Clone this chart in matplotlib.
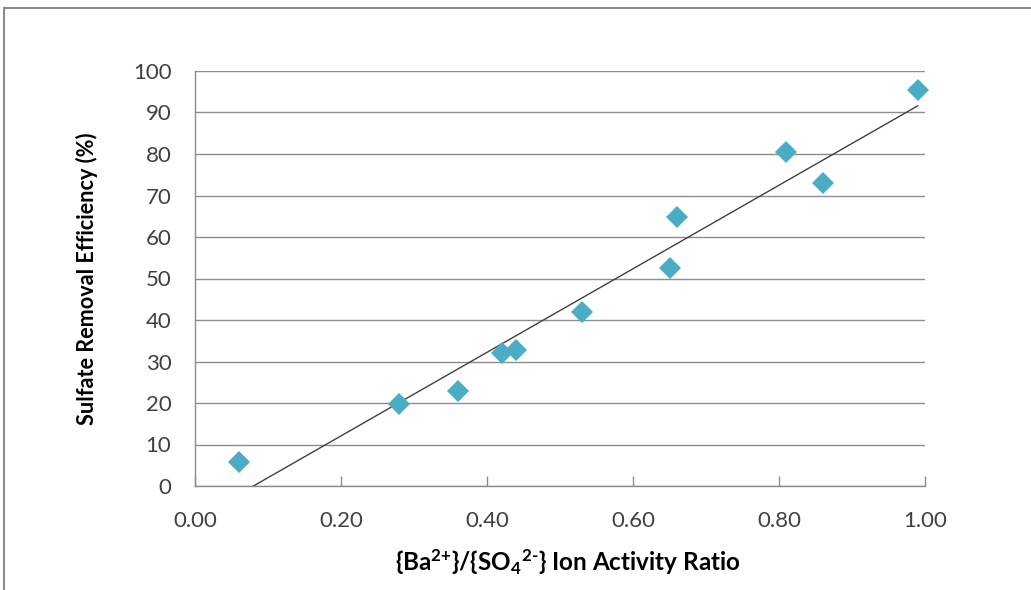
import numpy as np
import matplotlib
matplotlib.use("Agg")
import matplotlib.pyplot as plt
from matplotlib.patches import Rectangle

# ion activity ratio vs sulfate removal
ratio = [0.06, 0.28, 0.36, 0.42, 0.44, 0.53, 0.65, 0.66, 0.81, 0.86, 0.99]
removal = [5.8, 19.8, 22.9, 32.0, 32.8, 41.9, 52.5, 64.8, 80.5, 73.0, 95.4]
x_ticks = [0.0, 0.2, 0.4, 0.6, 0.8, 1.0]
y_ticks = list(range(0, 101, 10))

plt.rcParams['font.family'] = ['Lato', 'DejaVu Sans']
plt.rcParams['mathtext.fontset'] = 'custom'
plt.rcParams['mathtext.rm'] = 'Lato:bold'
plt.rcParams['mathtext.bf'] = 'Lato:bold'
plt.rcParams['mathtext.default'] = 'bf'

fig = plt.figure(figsize=(10.31, 5.90), dpi=100)
fig.patches.append(Rectangle((4/1031, -0.1), 1.2, 1 - 8/590 + 0.1, transform=fig.transFigure,
                             fill=False, edgecolor='#8c8c8c', linewidth=1.5))
ax = fig.add_axes([195/1031, 1 - 486/590, 730/1031, 415/590])

grid_c = '#8c8c8c'
ax.set_xlim(0, 1.0)
ax.set_ylim(0, 100)
ax.set_yticks(y_ticks)
ax.set_xticks(x_ticks)
ax.set_xticklabels([f"{t:.2f}" for t in x_ticks])
ax.yaxis.grid(True, color=grid_c, linewidth=1.0)
ax.set_axisbelow(True)
for s in ['top', 'right']:
    ax.spines[s].set_visible(False)
for s in ['left', 'bottom']:
    ax.spines[s].set_color(grid_c)
    ax.spines[s].set_linewidth(1.0)
ax.tick_params(axis='y', length=0, labelsize=16, colors='#404040', pad=17)
ax.tick_params(axis='x', direction='in', length=7, width=1.0, color=grid_c,
               labelsize=16, labelcolor='#404040', pad=18)

# linear trendline from the data
m, b = np.polyfit(ratio, removal, 1)
xs = np.array([min(ratio), max(ratio)])
ax.plot(xs, m * xs + b, color='#404040', linewidth=1.0, zorder=3)

ax.plot(ratio, removal, linestyle='none', marker='D', markersize=11.5,
        color='#4BACC6', markeredgewidth=0, zorder=4, clip_on=False)

ax.set_ylabel("Sulfate Removal Efficiency (%)", fontsize=15.6, fontweight='bold', labelpad=25)
ax.set_xlabel(r"{Ba$^{2{+}}$}/{SO$_{4}$$^{2\text{-}}$} Ion Activity Ratio", fontsize=17.5,
              fontweight='bold')
ax.xaxis.set_label_coords(0.511, -0.147)

fig.savefig("out.png", dpi=100)
